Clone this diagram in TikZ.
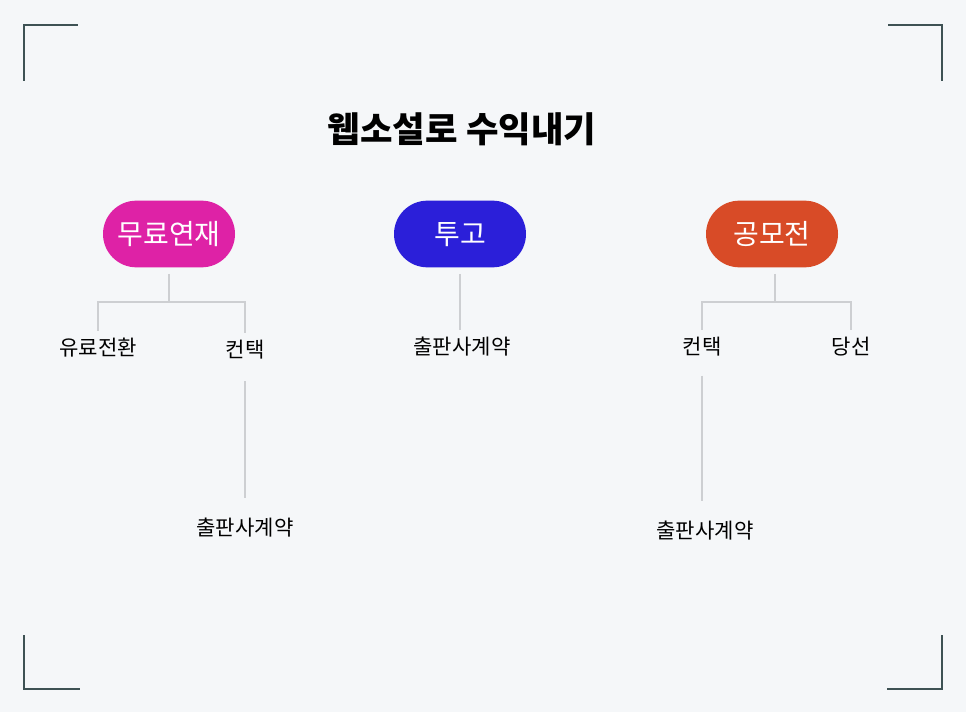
\documentclass[tikz,border=0pt]{standalone}
\usepackage{fontspec}
\setmainfont{Noto Sans CJK KR}
\usepackage{tikz}
\usetikzlibrary{positioning,calc}
\definecolor{bgcol}{HTML}{F5F7F9}
\definecolor{cornercol}{HTML}{3E5254}
\definecolor{linecol}{HTML}{CDCFD2}
\definecolor{pinkcol}{HTML}{DE22A6}
\definecolor{bluecol}{HTML}{2B1FD9}
\definecolor{redcol}{HTML}{D84B27}

\begin{document}
\begin{tikzpicture}[
    x=0.75pt, y=-0.75pt,
    pill/.style={rectangle, rounded corners=25pt, minimum width=99pt, minimum height=50pt, inner sep=0pt, outer sep=5pt, text height=16.5pt, text depth=1.2pt, text=white, font=\fontsize{21}{24}\selectfont},
    pill1/.style={pill, fill=pinkcol},
    pill2/.style={pill, fill=bluecol},
    pill3/.style={pill, fill=redcol},
    leaf/.style={inner sep=0pt, outer sep=7pt, text height=11pt, text depth=3pt, font=\fontsize{15.8}{18}\selectfont},
    link/.style={draw=linecol, line width=0.8pt},
    corner/.style={draw=cornercol, line width=1pt}
]
    \fill [bgcol] (0,0) rectangle (966,712);

    \draw [corner] (24,81) -- (24,25) -- (78,25);
    \draw [corner] (888,25) -- (942,25) -- (942,81);
    \draw [corner] (24,635) -- (24,689) -- (80,689);
    \draw [corner] (887,689) -- (942,689) -- (942,635);

    \node [font=\bfseries\fontsize{26.5}{30}\selectfont] (title) at (462,129) {웹소설로 수익내기};

    \node [pill1] (p1) at (169,234) {무료연재};
    \node [pill2] (p2) at (460,234) {투고};
    \node [pill3] (p3) at (772,234) {공모전};

    \node [leaf] (a1) at (98,350) {유료전환};
    \node [leaf] (a2) at (245,352) {컨택};
    \node [leaf] (a3) at (245,530) {출판사계약};
    \node [leaf] (c1) at (462,349) {출판사계약};
    \node [leaf] (b1) at (702,349) {컨택};
    \node [leaf] (b2) at (851,349) {당선};
    \node [leaf] (b3) at (705,533) {출판사계약};

    \coordinate (j1) at (169,302);
    \coordinate (j3) at (775,302);

    \draw [link] (p1.south) -- (j1);
    \draw [link] (j1) -| (a1.north);
    \draw [link] (j1) -| (a2.north);
    \draw [link, shorten <=8pt, shorten >=10pt] (a2.south) -- (a2.south |- a3.north);

    \draw [link] (p2.south) -- (p2.south |- c1.north);

    \draw [link] (p3.south -| j3) -- (j3);
    \draw [link] (j3) -| (b1.north);
    \draw [link] (j3) -| (b2.north);
    \draw [link, shorten <=6pt, shorten >=10pt] (b1.south) -- (b1.south |- b3.north);
\end{tikzpicture}
\end{document}
